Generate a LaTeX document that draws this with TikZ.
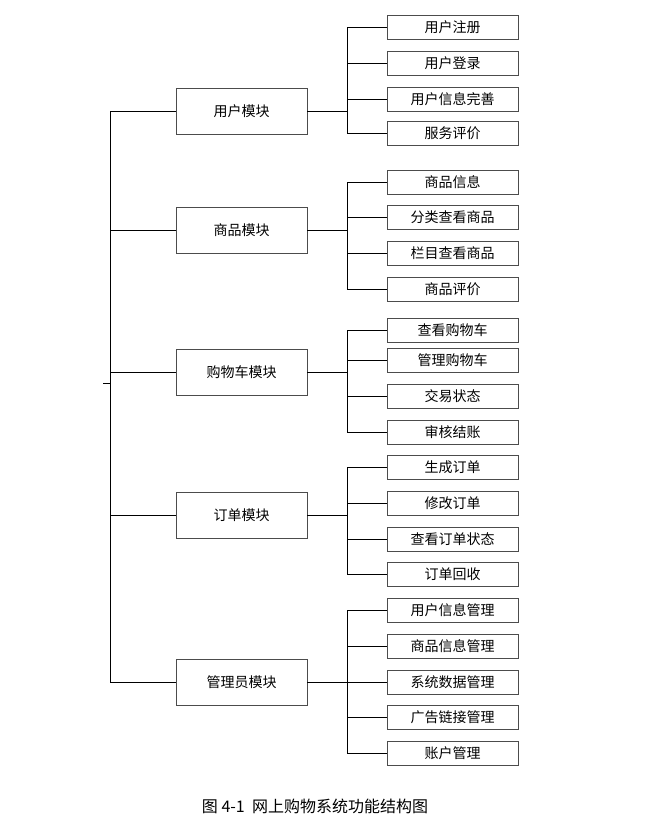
\documentclass[tikz,border=0pt]{standalone}
\usepackage{fontspec}
\newfontfamily\cjk{Noto Sans CJK SC}
\begin{document}
\begin{tikzpicture}[x=1pt,y=-1pt,
    every node/.style = {font=\cjk\fontsize{14}{16}\selectfont},
    modbox/.style = {draw=black!70, fill=white, minimum width=131pt, minimum height=46pt, inner sep=0pt},
    leafbox/.style = {draw=black!70, fill=white, minimum width=131pt, minimum height=24pt, inner sep=0pt},
    link/.style = {line width=0.9pt}]
    \useasboundingbox (0,0) rectangle (647,828);
    % root trunk
    \coordinate (top) at (110,111);
    \coordinate (bot) at (110,682);
    \coordinate (stub) at (103,383);
    \draw[link] (top) -- (bot);
    \draw[link] (stub) -- (110,383);
    % modules and their leaves
    \foreach \m/\y/\name/\leaves in {
        u/111/用户模块/{27/用户注册,63/用户登录,99/用户信息完善,133/服务评价},
        g/230/商品模块/{182/商品信息,217/分类查看商品,253/栏目查看商品,289/商品评价},
        c/372/购物车模块/{330/查看购物车,360/管理购物车,396/交易状态,432/审核结账},
        o/515/订单模块/{467/生成订单,503/修改订单,539/查看订单状态,574/订单回收},
        a/682/管理员模块/{610/用户信息管理,646/商品信息管理,682/系统数据管理,717/广告链接管理,753/账户管理}} {
        \node[modbox] (\m) at (241.5,\y) {\name};
        \draw[link] (110,\y) -- (\m.west);
        \coordinate (\m-j) at (347,\y);
        \draw[link] (\m.east) -- (\m-j);
        \foreach \ly/\txt [count=\i] in \leaves {
            \node[leafbox] (\m-\i) at (452.5,\ly) {\txt};
            \coordinate (\m-b\i) at (347,\ly);
            \draw[link] (\m-b\i) -- (\m-\i.west);
        }
    }
    % leaf spines
    \draw[link] (u-b1) -- (u-b4);
    \draw[link] (g-b1) -- (g-b4);
    \draw[link] (c-b1) -- (c-b4);
    \draw[link] (o-b1) -- (o-b4);
    \draw[link] (a-b1) -- (a-b5);
    % caption
    \node[font=\cjk\fontsize{16}{18}\selectfont] (cap) at (315,806) {图 4-1\ \ 网上购物系统功能结构图};
\end{tikzpicture}
\end{document}
